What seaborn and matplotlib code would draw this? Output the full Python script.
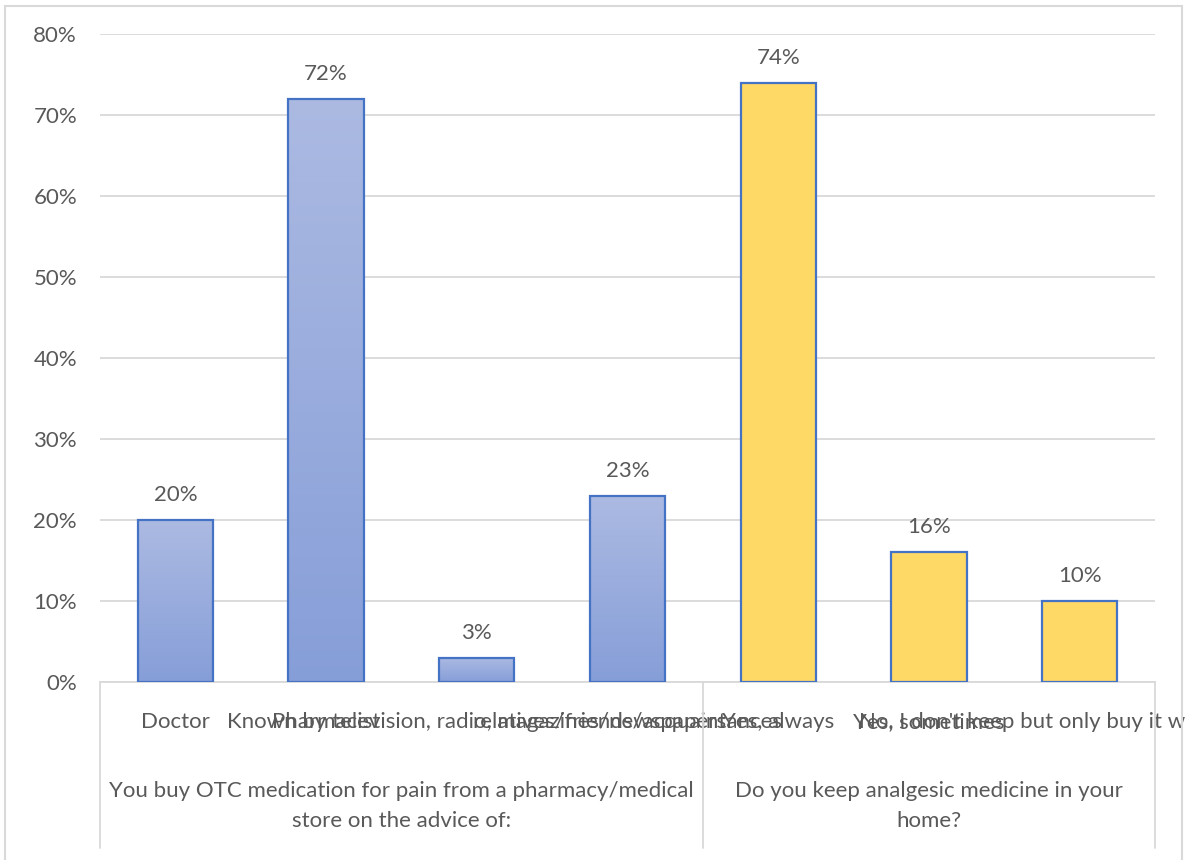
import numpy as np
import pandas as pd
import matplotlib
matplotlib.use("Agg")
import matplotlib.pyplot as plt
import seaborn as sns
from matplotlib.patches import Rectangle
from matplotlib.lines import Line2D
import matplotlib.transforms as mtransforms

# ---- data ----
categories = [
    "Doctor",
    "Pharmacist",
    "Known by television, radio, magazines/newspapers",
    "relatives/friends/acquaintances",
    "Yes, always",
    "Yes, sometimes",
    "No, I don't keep but only buy it when needed",
]
values = [0.20, 0.72, 0.03, 0.23, 0.74, 0.16, 0.10]
groups = ["g1", "g1", "g1", "g1", "g2", "g2", "g2"]
group_titles = [
    "You buy OTC medication for pain from a pharmacy/medical\nstore on the advice of:",
    "Do you keep analgesic medicine in your\nhome?",
]
yticks = [0.0, 0.1, 0.2, 0.3, 0.4, 0.5, 0.6, 0.7, 0.8]

sns.set_theme(style="white")
plt.rcParams["font.family"] = ["Lato", "DejaVu Sans"]

TEXT = "#595959"
GRID = "#d9d9d9"
EDGE = "#4472c4"
FS = 16

W, H = 1185, 860
fig = plt.figure(figsize=(W / 100, H / 100), dpi=100)
ax = fig.add_axes([100 / W, (H - 682) / H, (1155 - 100) / W, (682 - 34) / H])

df = pd.DataFrame({"cat": categories, "val": values, "grp": groups})
sns.barplot(data=df, x="cat", y="val", hue="grp", order=categories,
            palette={"g1": "#9aade0", "g2": "#ffd966"}, dodge=False, saturation=1,
            width=0.5, edgecolor=EDGE, linewidth=1.6, legend=False, ax=ax,
            zorder=3)

ax.set_xlim(-0.5, len(categories) - 0.5)
ax.set_ylim(0, 0.8)
ax.set_yticks(yticks)
ax.set_yticklabels([f"{int(round(t*100))}%" for t in yticks], color=TEXT, fontsize=FS)
ax.tick_params(axis="y", length=0, pad=16.5)
ax.yaxis.grid(True, color=GRID, linewidth=1.3, zorder=0)
ax.set_axisbelow(True)
for s in ["top", "right", "left"]:
    ax.spines[s].set_visible(False)
ax.spines["bottom"].set_color(GRID)
ax.spines["bottom"].set_linewidth(1.3)
ax.set_xlabel("")
ax.set_ylabel("")

ax.set_xticks(range(len(categories)))
ax.set_xticklabels(categories, color=TEXT, fontsize=FS)
ax.tick_params(axis="x", length=0, pad=33)
for lbl in ax.get_xticklabels():
    lbl.set_verticalalignment("baseline")

# gradient for blue bars
grad = np.linspace(0, 1, 256).reshape(-1, 1)
top_c = np.array([172, 186, 226]) / 255
bot_c = np.array([134, 158, 216]) / 255
img = (bot_c[None, None, :] * (1 - grad[..., None]) + top_c[None, None, :] * grad[..., None])
for p, g in zip(ax.patches, groups):
    if g == "g1":
        p.set_facecolor("none")
        x0, y0 = p.get_x(), p.get_y()
        w, h = p.get_width(), p.get_height()
        im = ax.imshow(img, extent=[x0, x0 + w, y0, y0 + h], origin="lower",
                       aspect="auto", zorder=2.5, interpolation="bilinear")
        im.set_clip_path(p)
ax.set_xlim(-0.5, len(categories) - 0.5)
ax.set_ylim(0, 0.8)

# data labels
for i, v in enumerate(values):
    ax.annotate(f"{int(round(v*100))}%", (i, v), xytext=(0, 18), textcoords="offset points",
                ha="center", va="center", color=TEXT, fontsize=FS)

# category axis box lines
trans = mtransforms.blended_transform_factory(ax.transData, fig.transFigure)
for xv in [-0.5, 3.5, 6.5]:
    ax.add_line(Line2D([xv, xv], [(H - 682) / H, (H - 848) / H], transform=trans,
                       color=GRID, linewidth=1.3, clip_on=False))

# group titles
ax.text(1.5, (H - 806) / H, group_titles[0], transform=trans, ha="center", va="center",
        color=TEXT, fontsize=FS, linespacing=1.6)
ax.text(5.0, (H - 806) / H, group_titles[1], transform=trans, ha="center", va="center",
        color=TEXT, fontsize=FS, linespacing=1.6)

# outer chart border
fig.add_artist(Rectangle((5 / W, -0.01), (1182 - 5) / W, (H - 6) / H + 0.01,
                         transform=fig.transFigure, fill=False, edgecolor=GRID,
                         linewidth=1.5))

fig.savefig("out.png", dpi=100)
